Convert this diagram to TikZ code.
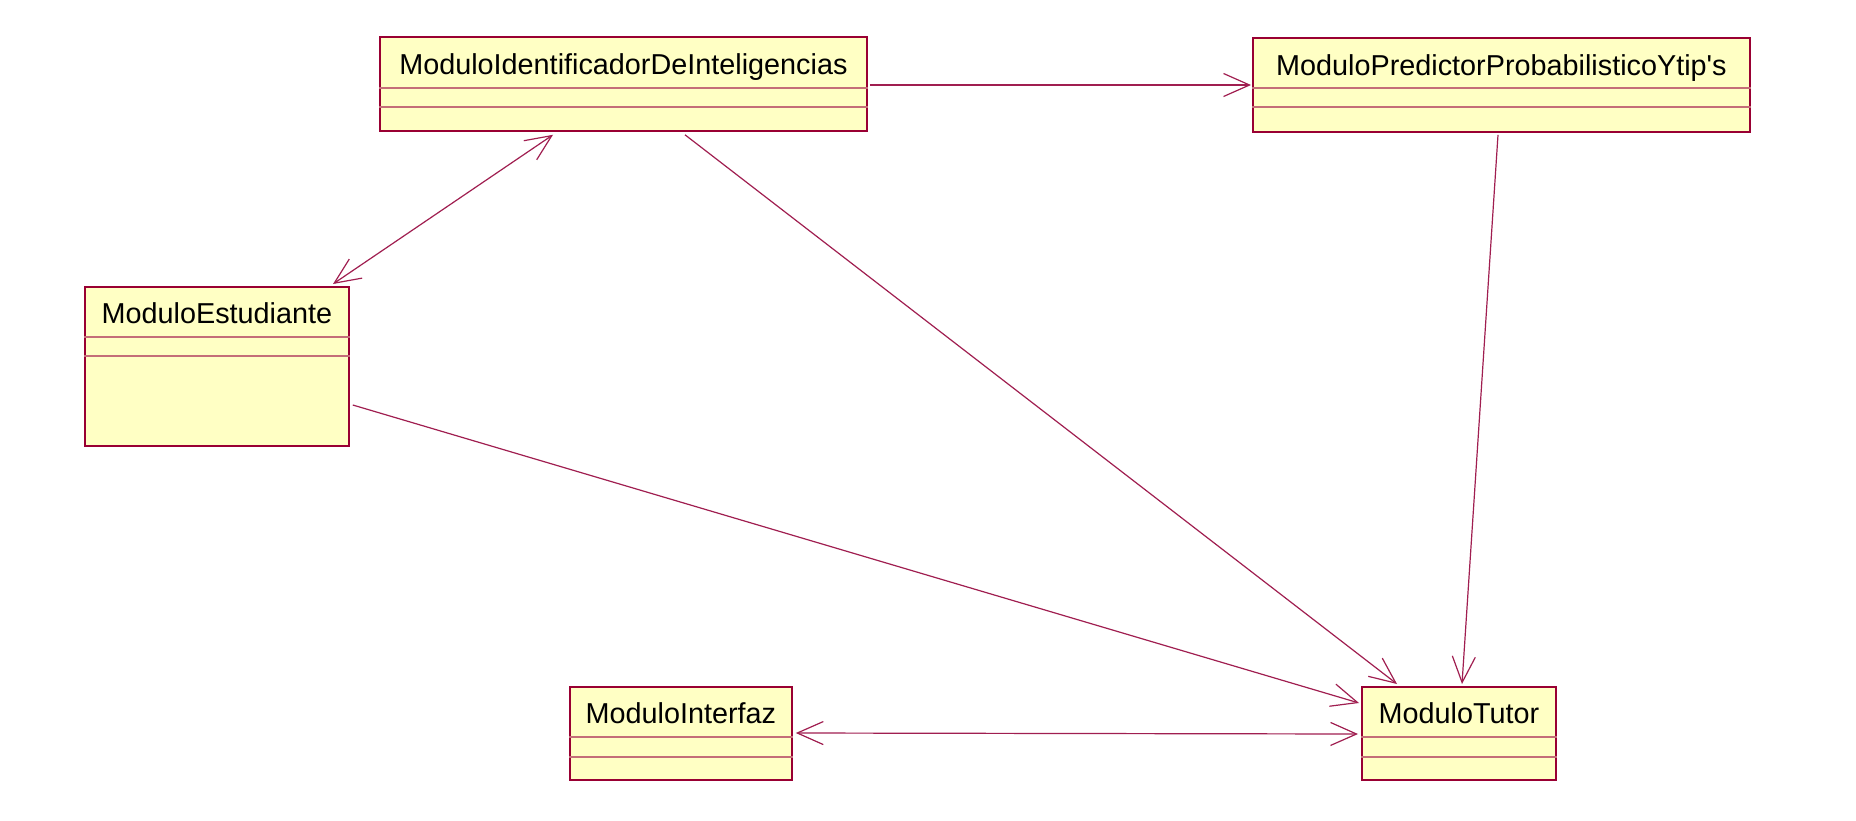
\documentclass[tikz,border=0pt]{standalone}
\usepackage{fontspec}
\setmainfont{Liberation Sans}
\usetikzlibrary{arrows.meta,calc}
\definecolor{boxfill}{RGB}{255,255,196}
\definecolor{boxline}{RGB}{153,0,51}
\definecolor{divline}{RGB}{196,110,120}
\definecolor{conn}{RGB}{160,30,80}
\tikzset{
  classbox/.style={draw=boxline, fill=boxfill, line width=1.8pt, rectangle, inner sep=0pt, anchor=north west},
  classtitle/.style={font=\fontsize{28.8}{34}\selectfont, inner sep=0pt, anchor=base},
  divider/.style={draw=divline, line width=1.3pt},
  assoc/.style={draw=conn, line width=1.2pt, -{Straight Barb[length=26pt,width=23pt,line width=1.2pt]}},
  biassoc/.style={draw=conn, line width=1.2pt, {Straight Barb[length=26pt,width=23pt,line width=1.2pt]}-{Straight Barb[length=26pt,width=23pt,line width=1.2pt]}}
}
\begin{document}
\begin{tikzpicture}[x=1pt,y=-1pt]
\fill[white] (0,0) rectangle (1856,820);
\useasboundingbox (0,0) rectangle (1856,820);

% ModuloIdentificadorDeInteligencias
\node[classbox, minimum width=487pt, minimum height=94pt] (ident) at (379,36) {};
\node[classtitle] (identT) at ($(ident.north)+(0,38)$) {ModuloIdentificadorDeInteligencias};
\draw[divider] ($(ident.north west)+(0,52)$) -- ($(ident.north east)+(0,52)$);
\draw[divider] ($(ident.north west)+(0,71)$) -- ($(ident.north east)+(0,71)$);

% ModuloPredictorProbabilisticoYtip's
\node[classbox, minimum width=497pt, minimum height=94pt] (pred) at (1252,37) {};
\node[classtitle] (predT) at ($(pred.north)+(0,38)$) {ModuloPredictorProbabilisticoYtip\textquotesingle s};
\draw[divider] ($(pred.north west)+(0,51)$) -- ($(pred.north east)+(0,51)$);
\draw[divider] ($(pred.north west)+(0,70)$) -- ($(pred.north east)+(0,70)$);

% ModuloEstudiante
\node[classbox, minimum width=264pt, minimum height=159pt] (estud) at (84,286) {};
\node[classtitle] (estudT) at ($(estud.north)+(0,37)$) {ModuloEstudiante};
\draw[divider] ($(estud.north west)+(0,51)$) -- ($(estud.north east)+(0,51)$);
\draw[divider] ($(estud.north west)+(0,70)$) -- ($(estud.north east)+(0,70)$);

% ModuloInterfaz
\node[classbox, minimum width=222pt, minimum height=93pt] (inter) at (569,686) {};
\node[classtitle] (interT) at ($(inter.north)+(0,37)$) {ModuloInterfaz};
\draw[divider] ($(inter.north west)+(0,51)$) -- ($(inter.north east)+(0,51)$);
\draw[divider] ($(inter.north west)+(0,71)$) -- ($(inter.north east)+(0,71)$);

% ModuloTutor
\node[classbox, minimum width=194pt, minimum height=93pt] (tutor) at (1361,686) {};
\node[classtitle] (tutorT) at ($(tutor.north)+(0,37)$) {ModuloTutor};
\draw[divider] ($(tutor.north west)+(0,51)$) -- ($(tutor.north east)+(0,51)$);
\draw[divider] ($(tutor.north west)+(0,71)$) -- ($(tutor.north east)+(0,71)$);

% Connectors
\draw[assoc] ($(ident.north east)+(2,49)$) -- ($(pred.north west)+(-1,48)$);
\draw[biassoc] ($(estud.north west)+(249,-2)$) -- ($(ident.south west)+(174,3)$);
\draw[assoc] ($(ident.south west)+(306,3)$) -- ($(tutor.north west)+(36,-2)$);
\draw[assoc] ($(pred.south west)+(246,2)$) -- ($(tutor.north west)+(101,-2)$);
\draw[assoc] ($(estud.north east)+(3,119)$) -- ($(tutor.north west)+(-2,17)$);
\draw[biassoc] ($(inter.north east)+(3,47)$) -- ($(tutor.north west)+(-3,48)$);
\end{tikzpicture}
\end{document}
